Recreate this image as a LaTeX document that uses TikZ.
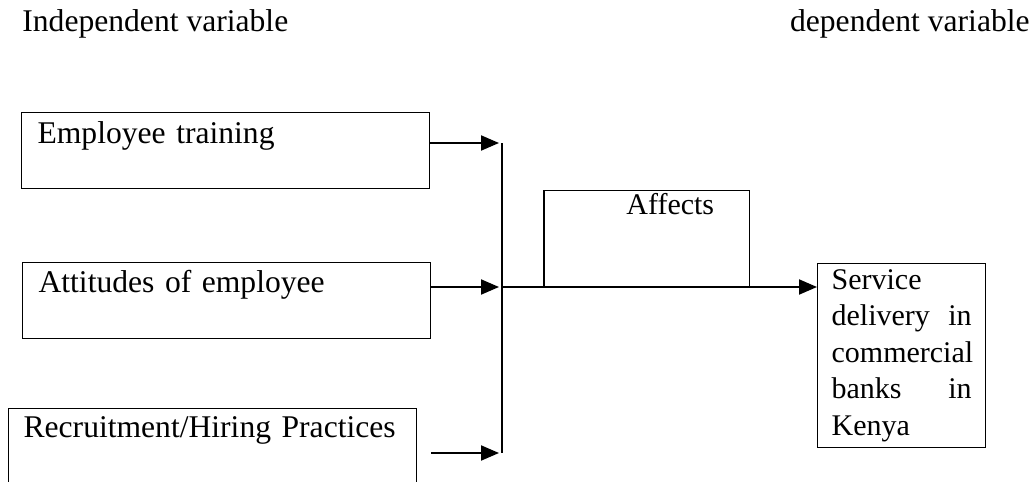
\documentclass[tikz,border=0pt]{standalone}
\usepackage{fontspec}
\setmainfont{Liberation Serif}
\usetikzlibrary{arrows.meta}
\tikzset{
  lbl/.style={font=\fontsize{15}{18.3}\selectfont, inner sep=0pt},
  biglbl/.style={lbl, font=\fontsize{15.8}{18.3}\selectfont},
  inbox/.style={biglbl, draw, line width=0.6pt, anchor=north west, text width=188pt,
    align=left, inner xsep=8pt, inner ysep=0pt},
  arr/.style={line width=1pt, -{Triangle[length=9pt,width=7.5pt]}}
}

\begin{document}
\begin{tikzpicture}[x=0.5pt,y=-0.5pt]
\useasboundingbox (0,0) rectangle (1036,481);
\path (22,32) node[biglbl,anchor=base west] (indep) {Independent variable};
\path (1030,32) node[biglbl,anchor=base east] (dep) {dependent variable};
\path (21,112) node[inbox,text height=15.5pt,text depth=22.5pt] (train) {Employee training};
\path (22,262) node[inbox,text height=15pt,text depth=23pt] (att) {Attitudes of employee};
\path (8,408) node[inbox,text height=14.5pt,text depth=40pt,inner xsep=7.5pt,text width=189pt] (recr) {Recruitment/Hiring Practices};
\path (817,263) node[lbl,draw,line width=0.6pt,anchor=north west,text width=70pt,align=left,
  inner xsep=7pt,minimum height=92pt] (serv) {Service\\ delivery\hfill in\\ commercial\\ banks\hfill in\\ Kenya};
% the three inputs meet on one bar
\coordinate (j1) at (502,143);
\coordinate (j2) at (502,287);
\coordinate (j3) at (502,453);
\draw[line width=0.9pt] (j1) -- (j3);
\draw[arr,shorten >=1.5pt] (train.east |- j1) -- (j1);
\draw[arr,shorten >=1.5pt] (att.east |- j2) -- (j2);
\draw[arr,shorten >=1.5pt] ([xshift=7pt]recr.east |- j3) -- (j3);
\draw[arr] (j2) -- (j2 -| serv.west);
\path (544,287) node[anchor=south west,minimum width=102.5pt,minimum height=48pt,inner sep=0pt] (aff) {};
\draw[line width=0.6pt] (aff.south west) |- (aff.north east) -- (aff.south east);
\path ([shift={(82,24)}]aff.north west) node[lbl,anchor=base west] (afftxt) {Affects};
\end{tikzpicture}
\end{document}
